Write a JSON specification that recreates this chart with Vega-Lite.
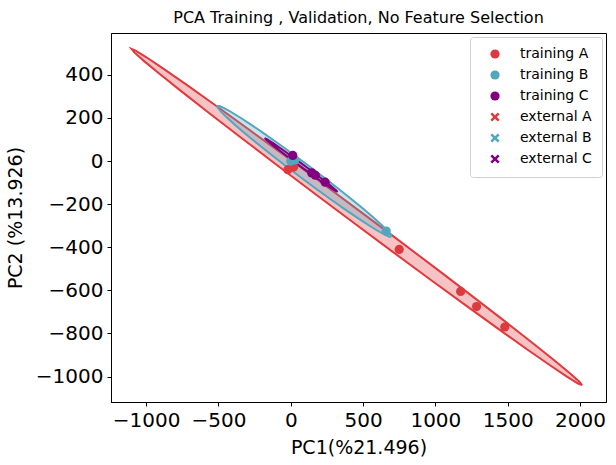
{
  "$schema": "https://vega.github.io/schema/vega-lite/v6.json",
  "autosize": "none",
  "width": 495,
  "height": 369,
  "padding": {"left": 111, "top": 33, "right": 10, "bottom": 63},
  "background": "white",
  "config": {
    "font": "DejaVu Sans",
    "view": {"stroke": "black", "strokeWidth": 1},
    "axis": {
      "grid": false,
      "domainColor": "black",
      "tickColor": "black",
      "labelColor": "black",
      "titleColor": "black",
      "labelFontSize": 20,
      "titleFontSize": 19,
      "titleFontWeight": "normal",
      "tickSize": 4,
      "labelPadding": 4,
      "format": "d"
    }
  },
  "title": {
    "text": "PCA Training , Validation, No Feature Selection",
    "fontSize": 16,
    "fontWeight": "normal",
    "color": "black",
    "offset": 7
  },
  "datasets": {
    "ellipses": [
      {"g": "A", "i": 0, "x": 2015, "y": -1040}, {"g": "A", "i": 1, "x": 1996.0, "y": -1023.9},
      {"g": "A", "i": 2, "x": 1930.3, "y": -984.7}, {"g": "A", "i": 3, "x": 1819.7, "y": -923.4},
      {"g": "A", "i": 4, "x": 1667.7, "y": -841.9}, {"g": "A", "i": 5, "x": 1479.2, "y": -742.9},
      {"g": "A", "i": 6, "x": 1259.3, "y": -629.1}, {"g": "A", "i": 7, "x": 1015.1, "y": -504.0},
      {"g": "A", "i": 8, "x": 754.0, "y": -371.6}, {"g": "A", "i": 9, "x": 483.9, "y": -235.8},
      {"g": "A", "i": 10, "x": 213.0, "y": -100.8}, {"g": "A", "i": 11, "x": -50.5, "y": 29.6},
      {"g": "A", "i": 12, "x": -298.7, "y": 151.0}, {"g": "A", "i": 13, "x": -523.9, "y": 259.9},
      {"g": "A", "i": 14, "x": -719.1, "y": 353.1}, {"g": "A", "i": 15, "x": -878.8, "y": 427.6},
      {"g": "A", "i": 16, "x": -997.9, "y": 481.3}, {"g": "A", "i": 17, "x": -1072.6, "y": 512.3},
      {"g": "A", "i": 18, "x": -1101, "y": 520}, {"g": "A", "i": 19, "x": -1082.0, "y": 503.9},
      {"g": "A", "i": 20, "x": -1016.3, "y": 464.7}, {"g": "A", "i": 21, "x": -905.7, "y": 403.4},
      {"g": "A", "i": 22, "x": -753.7, "y": 321.9}, {"g": "A", "i": 23, "x": -565.2, "y": 222.9},
      {"g": "A", "i": 24, "x": -345.3, "y": 109.1}, {"g": "A", "i": 25, "x": -101.1, "y": -16.0},
      {"g": "A", "i": 26, "x": 160.0, "y": -148.4}, {"g": "A", "i": 27, "x": 430.1, "y": -284.2},
      {"g": "A", "i": 28, "x": 701.0, "y": -419.2}, {"g": "A", "i": 29, "x": 964.5, "y": -549.6},
      {"g": "A", "i": 30, "x": 1212.7, "y": -671.0}, {"g": "A", "i": 31, "x": 1437.8, "y": -779.9},
      {"g": "A", "i": 32, "x": 1633.1, "y": -873.1}, {"g": "A", "i": 33, "x": 1792.8, "y": -947.6},
      {"g": "A", "i": 34, "x": 1911.9, "y": -1001.3}, {"g": "A", "i": 35, "x": 1986.6, "y": -1032.3},
      {"g": "A", "i": 36, "x": 2015, "y": -1040},
      {"g": "B", "i": 0, "x": 696, "y": -351}, {"g": "B", "i": 1, "x": 691.9, "y": -341.9},
      {"g": "B", "i": 2, "x": 669.6, "y": -323.8}, {"g": "B", "i": 3, "x": 630.0, "y": -297.5},
      {"g": "B", "i": 4, "x": 573.9, "y": -263.4}, {"g": "B", "i": 5, "x": 503.4, "y": -222.9},
      {"g": "B", "i": 6, "x": 420.5, "y": -177.0}, {"g": "B", "i": 7, "x": 327.5, "y": -127.1},
      {"g": "B", "i": 8, "x": 227.5, "y": -75.0}, {"g": "B", "i": 9, "x": 123.6, "y": -22.0},
      {"g": "B", "i": 10, "x": 18.7, "y": 30.2}, {"g": "B", "i": 11, "x": -83.9, "y": 80.1},
      {"g": "B", "i": 12, "x": -181.1, "y": 126.0}, {"g": "B", "i": 13, "x": -269.8, "y": 166.7},
      {"g": "B", "i": 14, "x": -347.5, "y": 200.8}, {"g": "B", "i": 15, "x": -411.9, "y": 227.5},
      {"g": "B", "i": 16, "x": -460.8, "y": 245.6}, {"g": "B", "i": 17, "x": -492.9, "y": 254.9},
      {"g": "B", "i": 18, "x": -507, "y": 255}, {"g": "B", "i": 19, "x": -502.9, "y": 245.9},
      {"g": "B", "i": 20, "x": -480.6, "y": 227.8}, {"g": "B", "i": 21, "x": -441.0, "y": 201.5},
      {"g": "B", "i": 22, "x": -384.9, "y": 167.4}, {"g": "B", "i": 23, "x": -314.4, "y": 126.9},
      {"g": "B", "i": 24, "x": -231.5, "y": 81.0}, {"g": "B", "i": 25, "x": -138.5, "y": 31.1},
      {"g": "B", "i": 26, "x": -38.5, "y": -21.0}, {"g": "B", "i": 27, "x": 65.4, "y": -74.0},
      {"g": "B", "i": 28, "x": 170.3, "y": -126.2}, {"g": "B", "i": 29, "x": 272.9, "y": -176.1},
      {"g": "B", "i": 30, "x": 370.1, "y": -222.0}, {"g": "B", "i": 31, "x": 458.8, "y": -262.7},
      {"g": "B", "i": 32, "x": 536.5, "y": -296.8}, {"g": "B", "i": 33, "x": 600.9, "y": -323.5},
      {"g": "B", "i": 34, "x": 649.8, "y": -341.6}, {"g": "B", "i": 35, "x": 681.9, "y": -350.9},
      {"g": "B", "i": 36, "x": 696, "y": -351},
      {"g": "C", "i": 0, "x": 324, "y": -143.5}, {"g": "C", "i": 1, "x": 310.9, "y": -134.1},
      {"g": "C", "i": 2, "x": 269, "y": -110.7}, {"g": "C", "i": 3, "x": 203.4, "y": -76.2},
      {"g": "C", "i": 4, "x": 121.8, "y": -34.7}, {"g": "C", "i": 5, "x": 34.4, "y": 8.7},
      {"g": "C", "i": 6, "x": -48.6, "y": 48.8}, {"g": "C", "i": 7, "x": -117, "y": 80.9},
      {"g": "C", "i": 8, "x": -162.7, "y": 100.9}, {"g": "C", "i": 9, "x": -180, "y": 106.5},
      {"g": "C", "i": 10, "x": -166.9, "y": 97.1}, {"g": "C", "i": 11, "x": -125, "y": 73.7},
      {"g": "C", "i": 12, "x": -59.4, "y": 39.2}, {"g": "C", "i": 13, "x": 22.2, "y": -2.3},
      {"g": "C", "i": 14, "x": 109.6, "y": -45.7}, {"g": "C", "i": 15, "x": 192.6, "y": -85.8},
      {"g": "C", "i": 16, "x": 261, "y": -117.9}, {"g": "C", "i": 17, "x": 306.7, "y": -137.9},
      {"g": "C", "i": 18, "x": 324, "y": -143.5}
    ],
    "points": [
      {"set": "training A", "x": -20, "y": -40},
      {"set": "training A", "x": 20, "y": -28},
      {"set": "training A", "x": 750, "y": -410},
      {"set": "training A", "x": 1175, "y": -605},
      {"set": "training A", "x": 1285, "y": -675},
      {"set": "training A", "x": 1480, "y": -770},
      {"set": "training B", "x": 0, "y": 0},
      {"set": "training B", "x": 28, "y": 5},
      {"set": "training B", "x": 660, "y": -325},
      {"set": "training C", "x": 14, "y": 26},
      {"set": "training C", "x": 145, "y": -55},
      {"set": "training C", "x": 170, "y": -66},
      {"set": "training C", "x": 238, "y": -98}
    ]
  },
  "layer": [
    {
      "data": {"name": "ellipses"},
      "transform": [{"filter": "datum.g === 'A'"}],
      "mark": {"type": "line", "fill": "#e0393e", "fillOpacity": 0.3, "stroke": "#e0393e", "strokeWidth": 2},
      "encoding": {
        "x": {"field": "x", "type": "quantitative", "scale": {"domain": [-1243, 2180], "nice": false, "zero": false},
          "axis": {"values": [-1000, -500, 0, 500, 1000, 1500, 2000], "title": "PC1(%21.496)", "titlePadding": 8}},
        "y": {"field": "y", "type": "quantitative", "scale": {"domain": [-1118, 594], "nice": false, "zero": false},
          "axis": {"values": [-1000, -800, -600, -400, -200, 0, 200, 400], "title": "PC2 (%13.926)", "titlePadding": 10}},
        "order": {"field": "i", "type": "quantitative"}
      }
    },
    {
      "data": {"name": "ellipses"},
      "transform": [{"filter": "datum.g === 'B'"}],
      "mark": {"type": "line", "fill": "#52a6bf", "fillOpacity": 0.3, "stroke": "#52a6bf", "strokeWidth": 2},
      "encoding": {
        "x": {"field": "x", "type": "quantitative"},
        "y": {"field": "y", "type": "quantitative"},
        "order": {"field": "i", "type": "quantitative"}
      }
    },
    {
      "data": {"name": "ellipses"},
      "transform": [{"filter": "datum.g === 'C'"}],
      "mark": {"type": "line", "fill": "#800080", "fillOpacity": 0.3, "stroke": "#800080", "strokeWidth": 2},
      "encoding": {
        "x": {"field": "x", "type": "quantitative"},
        "y": {"field": "y", "type": "quantitative"},
        "order": {"field": "i", "type": "quantitative"}
      }
    },
    {
      "data": {"name": "points"},
      "mark": {"type": "point", "filled": true, "opacity": 1},
      "encoding": {
        "x": {"field": "x", "type": "quantitative"},
        "y": {"field": "y", "type": "quantitative"},
        "color": {
          "field": "set", "type": "nominal",
          "scale": {
            "domain": ["training A", "training B", "training C", "external A", "external B", "external C"],
            "range": ["#dd3a3f", "#52a6bf", "#800080", "#dd3a3f", "#52a6bf", "#800080"]
          },
          "legend": {
            "title": null,
            "orient": "top-right",
            "offset": 4,
            "padding": 10,
            "rowPadding": 5,
            "labelFontSize": 14,
            "labelColor": "black",
            "labelOffset": 18,
            "symbolOffset": 8,
            "symbolSize": 85,
            "symbolOpacity": 1,
            "strokeColor": "#d0d0d0",
            "cornerRadius": 3,
            "fillColor": "white"
          }
        },
        "shape": {
          "field": "set", "type": "nominal",
          "scale": {
            "domain": ["training A", "training B", "training C", "external A", "external B", "external C"],
            "range": ["circle", "circle", "circle",
              "M-1,-0.6L-0.6,-1L0,-0.4L0.6,-1L1,-0.6L0.4,0L1,0.6L0.6,1L0,0.4L-0.6,1L-1,0.6L-0.4,0Z",
              "M-1,-0.6L-0.6,-1L0,-0.4L0.6,-1L1,-0.6L0.4,0L1,0.6L0.6,1L0,0.4L-0.6,1L-1,0.6L-0.4,0Z",
              "M-1,-0.6L-0.6,-1L0,-0.4L0.6,-1L1,-0.6L0.4,0L1,0.6L0.6,1L0,0.4L-0.6,1L-1,0.6L-0.4,0Z"]
          }
        },
        "size": {"value": 85}
      }
    }
  ]
}
